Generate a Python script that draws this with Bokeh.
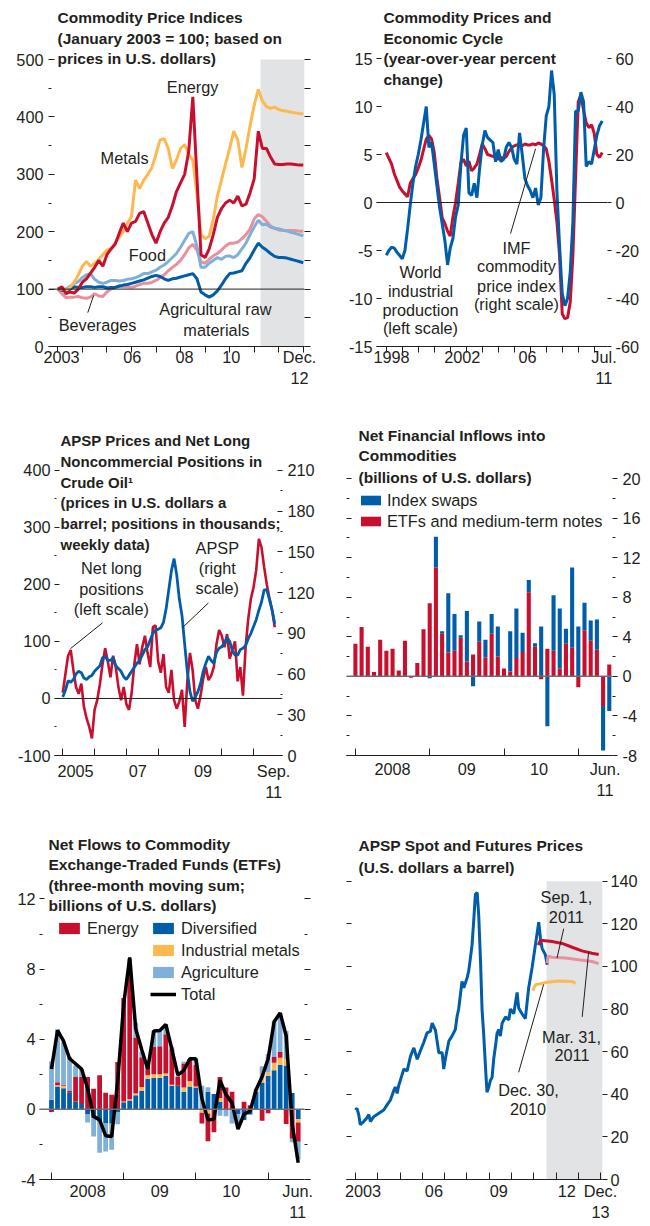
from bokeh.plotting import figure
from bokeh.models import (Range1d, LinearAxis, FixedTicker, CustomJSTickFormatter, Label,
                          Span, BoxAnnotation, Legend, LegendItem)
from bokeh.layouts import column, row
from bokeh.embed import file_html
from bokeh.resources import INLINE

FONT = "Liberation Sans"
FS = "16.3px"
TFS = "15.5px"
INK = "#231f20"
RED = "#c8102e"
BLUE = "#005daa"
LBLUE = "#7eb0da"
ORANGE = "#fdb94f"
PINK = "#e8919d"
SHADE = "#e2e3e5"
ZERO = "#6d6e71"

# ---------------- Panel 1: commodity price indices (bimonthly points) ----------------
p1_t = [2003 + k / 6 for k in range(61)]
energy = [100, 104, 92, 95, 93, 100, 112, 118, 128, 138, 150, 140, 160, 170, 178, 197, 215, 200,
          215, 218, 232, 235, 215, 195, 180, 200, 215, 225, 245, 270, 285, 300, 340, 435, 295, 160,
          155, 170, 195, 225, 240, 250, 255, 250, 262, 245, 248, 268, 292, 375, 345, 345, 330, 318,
          317, 317, 318, 318, 317, 316, 316]
metals = [100, 100, 98, 103, 112, 125, 140, 148, 140, 145, 152, 160, 168, 170, 180, 190, 200, 215,
          226, 290, 275, 290, 300, 312, 335, 360, 362, 345, 310, 325, 345, 352, 335, 325, 265, 195,
          188, 192, 222, 262, 290, 318, 345, 375, 360, 312, 345, 385, 420, 448, 428, 418, 415, 417,
          413, 411, 410, 408, 407, 406, 405]
food = [100, 100, 100, 105, 110, 113, 120, 125, 127, 117, 112, 110, 112, 115, 115, 114, 115, 117,
        118, 120, 123, 127, 127, 130, 133, 138, 142, 148, 155, 162, 173, 185, 197, 200, 175, 138,
        138, 145, 150, 155, 152, 157, 158, 155, 160, 170, 180, 195, 208, 220, 212, 213, 208, 206,
        205, 203, 201, 199, 197, 195, 193]
beverages = [100, 92, 85, 86, 86, 87, 85, 84, 86, 92, 88, 87, 95, 100, 103, 106, 104, 104,
             103, 105, 108, 110, 110, 112, 115, 120, 125, 132, 138, 143, 150, 160, 172, 178, 168, 148,
             145, 152, 158, 162, 168, 175, 180, 180, 182, 188, 195, 205, 222, 230, 226, 218, 210, 206,
             203, 202, 202, 202, 202, 201, 201]
agraw = [100, 98, 96, 100, 104, 103, 103, 104, 104, 103, 104, 104, 102, 103, 103, 105, 107, 108,
         110, 112, 114, 116, 119, 122, 124, 122, 118, 115, 118, 119, 121, 123, 125, 127, 118, 95,
         90, 86, 90, 97, 107, 118, 127, 128, 130, 132, 145, 155, 168, 180, 173, 168, 162, 157,
         155, 155, 154, 152, 150, 148, 146]

# ---------------- Panel 2: economic cycle (bimonthly points) ----------------
p2_t = [1998 + k / 6 for k in range(82)]
world_ip = [5.2, 4.6, 4.0, 3.0, 2.3, 1.6, 1.2, 0.9, 0.6, 2.0, 2.5, 2.9,
            3.6, 4.4, 5.5, 6.6, 7.0, 6.6, 5.2, 2.5, 0.5, -1.6, -2.2, -3.0,
            -3.5, -1.5, 0.0, 2.0, 4.2, 4.5, 3.8, 4.3, 3.3, 3.6, 4.0, 5.0,
            6.1, 5.6, 5.0, 4.9, 4.8, 4.7, 4.5, 4.7, 4.6, 4.8, 5.3, 5.7,
            5.9, 6.0, 6.1, 5.9, 6.1, 6.0, 6.0, 6.1, 6.0, 6.2, 6.1, 5.9,
            5.6, 4.3, 2.4, 0.3, -2.0, -5.5, -11.6, -12.1, -12.0, -10.4, -5.5, 2.5,
            10.5, 11.2, 9.6, 8.3, 7.8, 8.1, 7.2, 5.0, 4.7, 5.2]
imf_cpi = [-22, -20, -18.6, -19, -20.7, -22, -23.5, -20, -11, -1, 8, 15,
           20, 26, 33, 40, 23, 25, 16, 7, -2, -9, -16, -26,
           -19, -15, -6, -1, 16, 28, 31, 4, 3, 8, 2, 14,
           24, 30, 27, 26, 25, 17, 22, 17, 18, 23, 25, 23,
           18, 16, 29, 20, 10, 7, 5, 2, 6, -1, 2, 22,
           36, 40, 55, 45, 5, -18, -38, -43, -40, -29, -8, 38,
           38, 46, 42, 15, 17, 16, 22, 28, 32, 34]

# ---------------- Panel 3: APSP and net long positions (monthly points) ----------------
p3_t = [2005 + k / 12 for k in range(81)]
net_long = [10, 43, 75, 85, 50, 20, 8, 26, -15, -35, -50, -70,
            -20, -3, 25, 60, 88, 65, 37, 75, 55, 20, -3, 20,
            -10, -20, 10, 60, 95, 60, 90, 110, 80, 55, 125, 128,
            65, 45, 78, 20, 10, 50, -3, -18, -5, 15, -50, 30,
            80, 50, -3, -18, 5, 35, 55, 32, 40, 55, 95, 120,
            110, 90, 113, 70, 85, 100, 30, 55, 5, 90, 140, 175,
            195, 225, 280, 265, 230, 200, 175, 155, 125]
apsp = [43, 48, 55, 54, 56, 60, 62, 61, 57, 56, 58, 59,
        62, 64, 66, 72, 73, 70, 70, 72, 66, 64, 62, 58,
        56, 59, 62, 65, 68, 70, 74, 78, 80, 85, 90, 92,
        93, 94, 98, 108, 122, 136, 145, 133, 115, 103, 82, 62,
        47, 40, 43, 47, 53, 62, 68, 73, 70, 68, 76, 79,
        80, 83, 87, 84, 77, 74, 74, 78, 79, 81, 86, 90,
        95, 100, 107, 113, 122, 122, 115, 107, 97]

# ---------------- Panel 4: net financial inflows (monthly, Jan 2008 - Jun 2011) ----------------
months = [2008 + i / 12 for i in range(42)]
etf_mtn = [3.3, 5.0, 3.0, 0.45, 3.7, 2.6, 2.8, 0.6, 3.6, -0.15, 1.35, 4.75,
           7.4, 11.0, 4.3, 2.4, 2.6, 3.9, 1.5, 2.2, 3.5, 1.9, 4.3, 2.0,
           0.8, 0.5, 1.85, 2.45, 8.5, 3.0, -0.3, 2.8, 2.6, 0.8, 3.3, 2.9,
           -1.1, 4.65, 3.6, 2.7, -3.0, 1.2]
index_swaps = [0, 0, 0, 0, 0, 0, 0, 0, 0, 0, 0, 0,
               -0.2, 3.1, 0.25, 6.0, 3.7, 0.25, 5.1, -1.0, 2.05, 1.8, 2.0, 3.05,
               0, 4.05, 5.0, 1.95, 1.25, 0.35, 5.05, -5.05, 5.6, 6.05, 1.5, 8.1,
               5.05, 2.8, 2.05, 3.05, -4.5, -3.5]

# ---------------- Panel 5: ETF flows (three-month sums) ----------------
diversified = [0.55, 1.3, 1.2, 0.95, 0.45, 0.3, -0.3, -0.5, -0.7, -0.8, -0.8, -0.15,
               0.4, 0.5, 0.8, 1.05, 1.75, 1.8, 1.8, 1.9, 1.35, 1.35, 1.0, 1.3,
               1.25, 0.0, 1.0, 0.87, 0.43, 0.0, 0.0, -0.28, -0.6, -0.3, 1.0, 1.53,
               1.9, 2.23, 2.55, 2.5, 0.93, -0.56]
ind_metals = [0, 0.07, 0.15, 0, 0, 0, 0, 0, 0, 0, 0, 0,
              0.05, 0.07, 0.1, 0.22, 0.2, 0.2, 0.2, 0.15, 0.05, 0, 0.25, 0.3,
              0.05, -0.2, -0.24, 0, 0.22, 0, 0, 0, 0, 0, 0.07, 0.33,
              0.2, 0.43, 0.4, 0.37, 0, -0.19]
energy_etf = [-0.15, 0.17, 0.05, 0.1, 1.4, 1.55, 1.85, 1.17, 1.95, 0.95, 0.84, 2.7,
              5.9, 7.7, 3.2, 1.7, 0.6, 1.55, 1.6, 2.23, 2.05, 0.5, 1.36, 1.27,
              1.26, -0.6, -1.58, -1.3, 1.2, 1.25, 1.0, 0.0, 0.43, 0.24, 0.0, -0.65,
              -0.22, 0.32, 0.32, -0.84, -1.67, -1.1]
agriculture = [2.2, 3.03, 2.45, 1.95, 0.65, 0.45, -0.45, -1.05, -1.77, -1.6, -1.5, -0.7,
               0.0, 0.3, 0.84, 0.3, 0.1, 0.93, 0.87, 0.56, 0.1, 0.05, 0.1, 0.0,
               0.3, 1.35, 0.26, 0.0, -0.37, -0.4, -0.8, -0.56, 0.0, 0.0, 0.1, 0.6,
               1.06, 2.05, 2.2, 1.6, -0.2, -1.0]
total_etf = [2.3, 4.5, 3.9, 2.9, 2.6, 2.3, 1.2, -0.4, -0.6, -1.5, -1.55, 1.6,
             6.0, 8.66, 4.6, 3.4, 2.3, 4.47, 4.5, 4.84, 3.44, 1.95, 2.23, 2.88,
             2.88, 0.6, -0.6, -0.56, 1.67, 0.84, 0.37, -1.12, -0.28, -0.1, 1.12, 1.86,
             2.88, 5.0, 5.5, 4.2, -0.84, -3.05]

# ---------------- Panel 6: APSP spot and futures ----------------
spot_t = [2003.00, 2003.07, 2003.15, 2003.22, 2003.37, 2003.52, 2003.60, 2003.67, 2003.82, 2004.05,
          2004.27, 2004.42, 2004.57, 2004.72, 2004.79, 2004.87, 2004.94, 2005.17, 2005.32, 2005.47,
          2005.62, 2005.77, 2005.91, 2006.06, 2006.21, 2006.36, 2006.44, 2006.59, 2006.74, 2006.89,
          2006.96, 2007.04, 2007.19, 2007.33, 2007.48, 2007.56, 2007.63, 2007.78, 2007.86, 2008.01,
          2008.08, 2008.23, 2008.31, 2008.38, 2008.46, 2008.53, 2008.61, 2008.68, 2008.75, 2008.83,
          2008.90, 2008.98, 2009.05, 2009.13, 2009.20, 2009.28, 2009.35, 2009.43, 2009.50, 2009.58,
          2009.73, 2009.88, 2009.95, 2010.10, 2010.25, 2010.32, 2010.47, 2010.62, 2010.77, 2010.92,
          2011.07, 2011.22, 2011.30, 2011.37, 2011.52, 2011.60]
spot = [32.6, 33.4, 30.3, 25.7, 27.2, 29.0, 30.5, 27.2, 29.5, 31.1,
        32.6, 35.0, 37.3, 41.8, 43.4, 40.4, 44.0, 51.8, 51.0, 57.9,
        61.8, 56.4, 60.3, 64.2, 68.8, 69.5, 73.4, 70.0, 59.5, 59.5,
        51.8, 57.0, 65.0, 67.3, 70.4, 76.6, 80.0, 93.0, 90.0, 94.7,
        97.8, 110.0, 122.3, 133.8, 134.7, 123.8, 102.5, 79.5, 68.6, 53.3,
        41.0, 43.4, 46.4, 48.0, 56.4, 62.5, 68.6, 70.4, 67.3, 73.4,
        76.3, 74.9, 80.0, 77.8, 87.8, 80.5, 77.8, 75.5, 90.0, 99.3,
        110.0, 120.8, 113.0, 108.5, 105.4, 100.8]
fut_mar_t = [2011.20, 2011.30, 2011.82, 2012.27, 2012.72, 2013.16, 2013.61, 2013.91]
fut_mar = [110.0, 112.3, 111.7, 110.8, 109.0, 107.3, 106.2, 105.6]
fut_sep_t = [2011.60, 2011.64, 2011.82, 2012.42, 2013.01, 2013.61, 2013.91]
fut_sep = [101.5, 104.8, 104.3, 103.9, 103.1, 102.3, 101.3]
fut_dec_t = [2010.95, 2011.07, 2011.52, 2012.12, 2012.72, 2012.87]
fut_dec = [88.6, 91.4, 92.4, 93.2, 92.9, 92.0]


# ---------------- helpers ----------------
def base_fig(w, h, xr, yr, ml, mr, mb):
    # frame reaches the top of the canvas so that titles (labels) are not clipped
    return figure(width=w, height=h, x_range=Range1d(*xr), y_range=Range1d(*yr),
                  x_axis_type=None, y_axis_type=None, toolbar_location=None,
                  output_backend="svg", min_border_left=ml, min_border_right=mr,
                  min_border_top=0, min_border_bottom=mb, outline_line_color=None,
                  background_fill_color="white", border_fill_color="white")


def yaxis(p, side, ticks, minor=None, show=True, tin=0, tout=0, min_in=0, min_out=0,
          rname=None, standoff=4):
    kw = dict(ticker=FixedTicker(ticks=list(ticks), minor_ticks=list(minor or [])),
              formatter=CustomJSTickFormatter(code="return tick.toFixed(0);" if show else "return '';"),
              major_tick_in=tin, major_tick_out=tout, minor_tick_in=min_in, minor_tick_out=min_out,
              major_tick_line_color=INK, minor_tick_line_color=INK,
              major_tick_line_width=1, minor_tick_line_width=1, axis_line_color=None,
              major_label_text_font=FONT, major_label_text_font_size=FS,
              major_label_text_color=INK, major_label_standoff=standoff)
    if rname:
        kw["y_range_name"] = rname
    p.add_layout(LinearAxis(**kw), side)


XFMT = """
let best = ''; let bd = 1e9;
for (let i = 0; i < pos.length; i++) {
  const d = Math.abs(tick - pos[i]);
  if (d < bd) { bd = d; best = txt[i]; }
}
return bd < 1e-6 ? best : '';
"""


def xaxis(p, years, tick_len, inside, label_pos, label_txt, standoff=2):
    fmt = CustomJSTickFormatter(args=dict(pos=list(label_pos), txt=list(label_txt)), code=XFMT)
    p.add_layout(LinearAxis(ticker=FixedTicker(ticks=list(label_pos), minor_ticks=list(years)),
                            formatter=fmt, major_tick_in=0, major_tick_out=0,
                            minor_tick_in=tick_len if inside else 0,
                            minor_tick_out=0 if inside else tick_len,
                            minor_tick_line_color=INK, minor_tick_line_width=1,
                            axis_line_color=INK, axis_line_width=1.2,
                            major_label_text_font=FONT, major_label_text_font_size=FS,
                            major_label_text_color=INK, major_label_standoff=standoff), "below")


def lab(p, x, y, text, align="center", bold=False, xu="data", yu="data", rname="default",
        size=None):
    p.add_layout(Label(x=x, y=y, x_units=xu, y_units=yu, text=text, text_font=FONT,
                       text_font_size=size or (TFS if bold else FS),
                       text_font_style="bold" if bold else "normal", text_color=INK,
                       text_align=align, text_baseline="middle", y_range_name=rname))


def title(p, x, ys, lines, size=None):
    for y, t in zip(ys, lines):
        lab(p, x, y, t, align="left", bold=True, xu="screen", yu="screen", size=size)


def stack(series_list):
    n = len(series_list[0])
    pos = [0.0] * n
    neg = [0.0] * n
    out = []
    for s in series_list:
        b, t = [], []
        for i, v in enumerate(s):
            if v >= 0:
                b.append(pos[i]); t.append(pos[i] + v); pos[i] += v
            else:
                b.append(neg[i]); t.append(neg[i] + v); neg[i] += v
        out.append((b, t))
    return out


def top_of(bottom, top, frame_h, data_h):
    return bottom + (top - bottom) * frame_h / data_h


# ================= Panel 1 =================
p1 = base_fig(325, 415, (2002.62, 2013.05), (0, top_of(0, 500, 346, 287)), 48, 21, 69)
p1.add_layout(BoxAnnotation(left=2011.26, top=500, fill_color=SHADE, fill_alpha=1,
                            line_color=None, level="underlay"))
yaxis(p1, "left", range(0, 501, 100), range(50, 500, 100), tin=6, min_in=3, standoff=5)
yaxis(p1, "right", range(0, 501, 50), show=False, tout=6)
xaxis(p1, range(2003, 2014), 6, False, [2003.15, 2006.03, 2008.16, 2010.07, 2012.85],
      ["2003", "06", "08", "10", "Dec.\n12"], standoff=-5)
p1.add_layout(Span(location=100, dimension="width", line_color=INK, line_width=1))
for ser, col in [(beverages, PINK), (food, LBLUE), (agraw, BLUE), (metals, ORANGE), (energy, RED)]:
    p1.line(p1_t, ser, line_color=col, line_width=3)
title(p1, 9, [329.3, 308.3, 287.7],
      ["Commodity Price Indices", "(January 2003 = 100; based on", "prices in U.S. dollars)"])
lab(p1, 2008.49, 452, "Energy")
lab(p1, 2005.72, 328, "Metals")
lab(p1, 2006.65, 159, "Food")
lab(p1, 2004.62, 37, "Beverages")
lab(p1, 2009.42, 66, "Agricultural raw")
lab(p1, 2009.46, 28, "materials")
p1.segment(x0=[2004.22], y0=[59], x1=[2004.46], y1=[89], line_color=INK, line_width=1)

# ================= Panel 2 =================
p2 = base_fig(325, 415, (1997.39, 2011.83), (-15, top_of(-15, 15, 346, 288)), 51, 43, 69)
p2.extra_y_ranges = {"r": Range1d(-60, top_of(-60, 60, 346, 288))}
yaxis(p2, "left", range(-15, 16, 5), tin=5, standoff=4)
yaxis(p2, "right", range(-60, 61, 20), tout=4, rname="r", standoff=4)
xaxis(p2, range(1998, 2012), 6, False, [1998.33, 2002.75, 2006.83, 2011.61],
      ["1998", "2002", "06", "Jul.\n11"], standoff=-5)
p2.add_layout(Span(location=0, dimension="width", line_color=INK, line_width=1))
p2.line(p2_t, world_ip, line_color=RED, line_width=3)
p2.line(p2_t, imf_cpi, line_color=BLUE, line_width=3, y_range_name="r")
title(p2, 7, [329.3, 308.3, 287.7, 266.7],
      ["Commodity Prices and", "Economic Cycle", "(year-over-year percent", "change)"])
for y, t in zip([-7.2, -9.2, -11.15, -13.1], ["World", "industrial", "production", "(left scale)"]):
    lab(p2, 2000.14, y, t)
for y, t in zip([-4.7, -6.65, -8.65, -10.6], ["IMF", "commodity", "price index", "(right scale)"]):
    lab(p2, 2006.14, y, t)
p2.segment(x0=[2005.77], y0=[-3.23], x1=[2007.33], y1=[5.59], line_color=INK, line_width=1)

# ================= Panel 3 =================
p3 = base_fig(325, 415, (2004.74, 2011.91), (-100, top_of(-100, 400, 341, 286)), 54, 43, 74)
p3.extra_y_ranges = {"r": Range1d(0, top_of(0, 210, 341, 286))}
yaxis(p3, "left", range(-100, 401, 100), range(-50, 400, 100), tin=5, min_in=2, standoff=4)
yaxis(p3, "right", range(0, 211, 30), range(15, 210, 30), tin=5, min_in=2, rname="r", standoff=5)
xaxis(p3, range(2005, 2012), 7, True, [2005.4, 2007.36, 2009.41, 2011.63],
      ["2005", "07", "09", "Sep.\n11"], standoff=6)
p3.add_layout(Span(location=0, dimension="width", line_color=INK, line_width=1))
p3.line(p3_t, net_long, line_color=RED, line_width=2.6)
p3.line(p3_t, apsp, line_color=BLUE, line_width=2.8, y_range_name="r")
title(p3, 6, [315.3, 293.7, 272.7, 252.7, 232, 211],
      ["APSP Prices and Net Long", "Noncommercial Positions in", "Crude Oil\u00b9",
       "(prices in U.S. dollars a", "barrel; positions in thousands;", "weekly data)"], size="15px")
for y, t in zip([228.6, 192, 157], ["Net long", "positions", "(left scale)"]):
    lab(p3, 2006.53, y, t)
for y, t in zip([263.5, 228.6, 193.7], ["APSP", "(right", "scale)"]):
    lab(p3, 2009.86, y, t)
p3.segment(x0=[2006.25, 2009.58], y0=[132.6, 167.5], x1=[2005.24, 2008.76], y1=[87.3, 124],
           line_color=INK, line_width=1)

# ================= Panel 4 =================
p4 = base_fig(325, 415, (2007.88, 2011.46), (-8, top_of(-8, 20, 340, 277)), 21, 38, 75)
yaxis(p4, "left", range(-8, 21, 4), range(-6, 19, 4), show=False, tin=5, min_in=3)
yaxis(p4, "right", range(-8, 21, 4), range(-6, 19, 4), tout=5, min_out=3, standoff=5)
xaxis(p4, range(2008, 2012), 7, True, [2008.5, 2009.5, 2010.47, 2011.36],
      ["2008", "09", "10", "Jun.\n11"], standoff=4)
(b_r, t_r), (b_b, t_b) = stack([etf_mtn, index_swaps])
r_red4 = p4.vbar(x=months, bottom=b_r, top=t_r, width=0.055, fill_color=RED, line_color=None)
r_blue4 = p4.vbar(x=months, bottom=b_b, top=t_b, width=0.055, fill_color=BLUE, line_color=None)
p4.add_layout(Span(location=0, dimension="width", line_color=ZERO, line_width=1.5))
title(p4, 12, [320, 300, 278],
      ["Net Financial Inflows into", "Commodities", "(billions of U.S. dollars)"])
p4.add_layout(Legend(items=[LegendItem(label="Index swaps", renderers=[r_blue4]),
                            LegendItem(label="ETFs and medium-term notes", renderers=[r_red4])],
                     location=(12, 223.5), orientation="vertical", glyph_width=25, glyph_height=12,
                     label_standoff=4, spacing=0, padding=0, margin=0, border_line_color=None,
                     background_fill_alpha=0, label_text_font=FONT, label_text_font_size=FS,
                     label_text_color=INK, label_height=21))

# ================= Panel 5 =================
p5 = base_fig(325, 394, (2007.834, 2011.504), (-4, top_of(-4, 12, 357, 287)), 39, 21, 37)
yaxis(p5, "left", range(-4, 13, 4), range(-2, 11, 4), tin=5, min_in=3, standoff=4)
yaxis(p5, "right", range(-4, 13, 4), range(-2, 11, 4), show=False, tout=6, min_out=3)
xaxis(p5, range(2008, 2012), 7, True, [2008.5, 2009.5, 2010.49, 2011.41],
      ["2008", "09", "10", "Jun.\n11"], standoff=2)
stk = stack([diversified, ind_metals, energy_etf, agriculture])
rends = {}
for (b, t), col, name in zip(stk, [BLUE, ORANGE, RED, LBLUE], ["div", "met", "en", "ag"]):
    rends[name] = p5.vbar(x=months, bottom=b, top=t, width=0.066, fill_color=col, line_color=None)
p5.add_layout(Span(location=0, dimension="width", line_color=ZERO, line_width=1.5))
r_tot = p5.line(months, total_etf, line_color="black", line_width=3.5)
title(p5, 9, [335.3, 314.7, 293.7, 273.7],
      ["Net Flows to Commodity", "Exchange-Traded Funds (ETFs)", "(three-month moving sum;",
       "billions of U.S. dollars)"])
legkw = dict(orientation="vertical", glyph_width=26, glyph_height=14, label_standoff=5, spacing=0,
             padding=0, margin=0, border_line_color=None, background_fill_alpha=0,
             label_text_font=FONT, label_text_font_size=FS, label_text_color=INK, label_height=22)
p5.add_layout(Legend(items=[LegendItem(label="Energy", renderers=[rends["en"]])],
                     location=(17, 240), **legkw))
p5.add_layout(Legend(items=[LegendItem(label="Diversified", renderers=[rends["div"]]),
                            LegendItem(label="Industrial metals", renderers=[rends["met"]]),
                            LegendItem(label="Agriculture", renderers=[rends["ag"]]),
                            LegendItem(label="Total", renderers=[r_tot])],
                     location=(111, 174), **legkw))

# ================= Panel 6 =================
p6 = base_fig(325, 394, (2002.60, 2014.08), (0, top_of(0, 140, 356, 304.3)), 21, 48, 38)
p6.add_layout(BoxAnnotation(left=2011.57, top=140, fill_color=SHADE, fill_alpha=1,
                            line_color=None, level="underlay"))
yaxis(p6, "left", range(0, 141, 20), show=False, tin=5)
yaxis(p6, "right", range(0, 141, 20), tout=5, standoff=3)
xaxis(p6, range(2003, 2015), 7, True, [2003.34, 2006.52, 2009.43, 2012.48, 2013.99],
      ["2003", "06", "09", "12", "Dec.\n13"], standoff=2)
p6.line(spot_t, spot, line_color=BLUE, line_width=3)
p6.line(fut_dec_t, fut_dec, line_color=ORANGE, line_width=3)
p6.line(fut_mar_t, fut_mar, line_color=RED, line_width=3)
p6.line(fut_sep_t, fut_sep, line_color=PINK, line_width=3)
title(p6, 12, [334, 312], ["APSP Spot and Futures Prices", "(U.S. dollars a barrel)"])
lab(p6, 2012.46, 132.6, "Sep. 1,")
lab(p6, 2012.46, 123.4, "2011")
lab(p6, 2012.69, 67.1, "Mar. 31,")
lab(p6, 2012.71, 58.2, "2011")
lab(p6, 2010.76, 41.8, "Dec. 30,")
lab(p6, 2010.74, 32.9, "2010")
p6.segment(x0=[2012.34, 2013.17, 2010.32], y0=[117.7, 76.3, 50.3],
           x1=[2012.04, 2013.46, 2011.44], y1=[103.9, 107.0, 91.6], line_color=INK, line_width=1)

layout = column(row(p1, p2), row(p3, p4), row(p5, p6))
open("out.html", "w").write(file_html(layout, INLINE))
